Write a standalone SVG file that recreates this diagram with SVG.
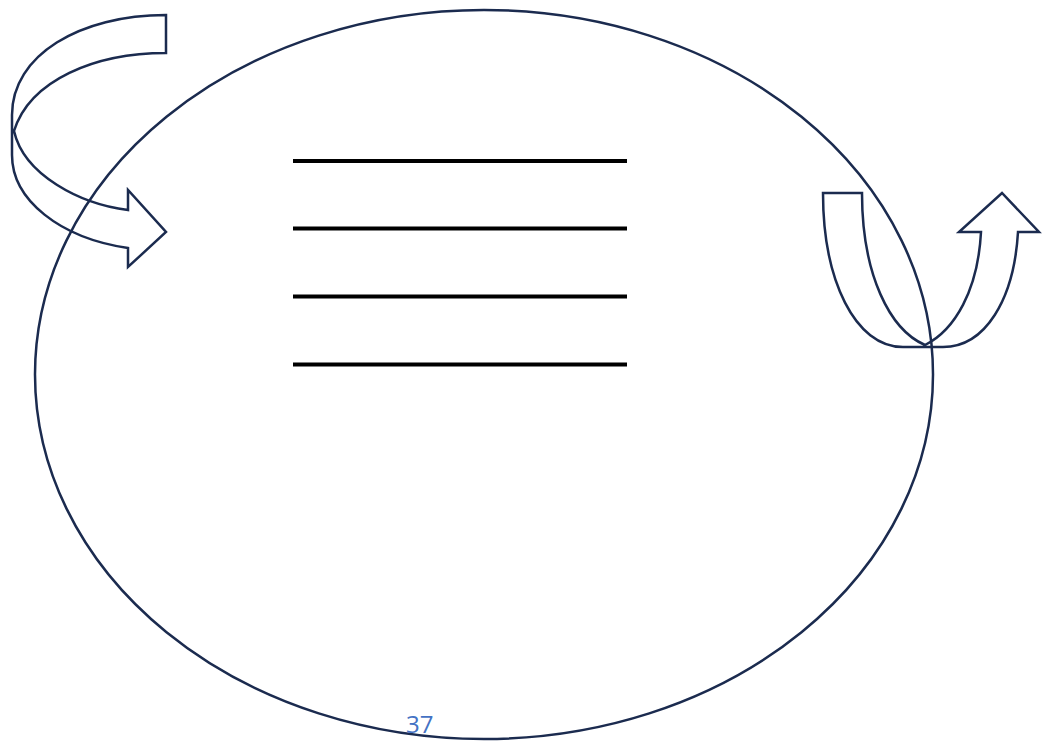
<svg xmlns="http://www.w3.org/2000/svg" width="1043" height="741" viewBox="0 0 1043 741">
<style>
.shape{fill:none;stroke:#1b2b4f;stroke-width:2.5;stroke-linejoin:miter}
.rule{stroke:#000;stroke-width:3.8}
.num{font-family:"Open Sans","Liberation Sans",sans-serif;font-size:24px;fill:#4472c4}
</style>
<rect width="1043" height="741" fill="#fff"/>
<g id="ellipse"><ellipse class="shape" cx="484" cy="374.5" rx="449" ry="364.5"/></g>
<g id="lines">
<line class="rule" x1="293" y1="161" x2="627" y2="161"/>
<line class="rule" x1="293" y1="228.5" x2="627" y2="228.5"/>
<line class="rule" x1="293" y1="296.5" x2="627" y2="296.5"/>
<line class="rule" x1="293" y1="364.5" x2="627" y2="364.5"/>
</g>
<g id="left-arrow">
<path class="shape" d="M166,15 L166,53 C95,53 30,80 14,131 C24,175 80,204 128,210 L128,190 L166,232 L128,267 L128,248 C60,238 12,200 12,155 L12,115 C12,55 80,15 166,15 Z"/>
</g>
<g id="right-arrow">
<path class="shape" d="M823,193 L862,193 C862,275 890,330 925,345 C955,330 978,290 981,232 L959,232 L1002,193 L1039,232 L1018,232 C1014,300 985,347 943,347 L903,347 C855,347 823,280 823,193 Z"/>
</g>
<g id="page-number"><text class="num" x="406" y="733">37</text></g>
</svg>
